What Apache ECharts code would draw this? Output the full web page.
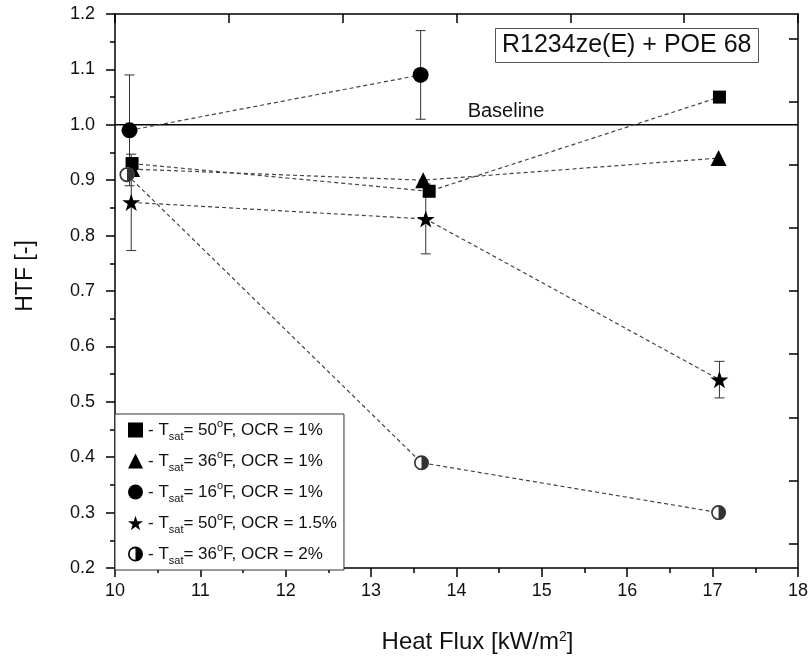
<!DOCTYPE html>
<html>
<head>
<meta charset="utf-8">
<script src="https://cdn.jsdelivr.net/npm/echarts@6/dist/echarts.min.js"></script>
<style>
html,body{margin:0;padding:0;background:#fff;}
#chart{width:811px;height:659px;}
</style>
</head>
<body>
<div id="chart"></div>
<script>
// ---- data ----
const sq50_1   = [[10.20, 0.93], [13.68, 0.88], [17.08, 1.05]];
const tri36_1  = [[10.20, 0.92], [13.61, 0.90], [17.07, 0.94]];
const cir16_1  = [[10.17, 0.99], [13.58, 1.09]];
const star50_15 = [[10.19, 0.86], [13.64, 0.83], [17.08, 0.54]];
const half36_2 = [[10.14, 0.91], [13.59, 0.39], [17.07, 0.30]];
// error bars: [x, low, high]
const errCircle = [[10.17, 0.89, 1.09], [13.58, 1.01, 1.17]];
const errStar   = [[10.19, 0.773, 0.947], [13.64, 0.767, 0.893], [17.08, 0.507, 0.573]];
const baseline  = [[10, 1.0], [18, 1.0]];
const baselineLabelAt = [14.58, 1.0];
const tsatVals = ['50', '36', '16', '50', '36'];
const ocrVals  = ['1%', '1%', '1%', '1.5%', '2%'];
const rightTicks = [0, 1, 2, 3, 4, 5, 6, 7, 8];
const titleText = 'R1234ze(E) + POE 68';

const FONT = 'Liberation Sans, Arial, sans-serif';
const STAR = 'path://M50,0 L61.8,35.3 L98.6,35.3 L68.8,57.1 L80.2,92.7 L50,70.9 L19.8,92.7 L31.2,57.1 L1.4,35.3 L38.2,35.3 Z';
const HALF = 'path://M50,0 A50,50 0 1,1 50,100 A50,50 0 1,1 50,0 Z M50,11 A39,39 0 1,0 50,89 A39,39 0 1,0 50,11 Z M50,0 A50,50 0 0,1 50,100 Z';

const names = tsatVals.map((t, i) => 'Tsat= ' + t + '°F, OCR = ' + ocrVals[i]);
const richNames = {};
names.forEach((n, i) => {
  richNames[n] = '{t|- T}{sub|sat}{t|= ' + tsatVals[i] + '}{sup|o}{t|F, OCR = ' + ocrVals[i] + '}';
});

const dashLine = {color: '#444', width: 1.2, type: [4, 3]};
const blackItem = {color: '#000'};

function errRender(params, api) {
  const x = api.value(0);
  const lo = api.coord([x, api.value(1)]);
  const hi = api.coord([x, api.value(2)]);
  const cap = 5;
  const st = {stroke: '#333', lineWidth: 1};
  return {
    type: 'group',
    children: [
      {type: 'line', shape: {x1: lo[0], y1: lo[1], x2: hi[0], y2: hi[1]}, style: st},
      {type: 'line', shape: {x1: lo[0] - cap, y1: lo[1], x2: lo[0] + cap, y2: lo[1]}, style: st},
      {type: 'line', shape: {x1: hi[0] - cap, y1: hi[1], x2: hi[0] + cap, y2: hi[1]}, style: st}
    ]
  };
}

const chart = echarts.init(document.getElementById('chart'), null, {renderer: 'canvas'});
const option = {
  animation: false,
  backgroundColor: '#fff',
  title: {
    text: titleText,
    left: 495, top: 28,
    padding: [4, 7],
    borderWidth: 1, borderColor: '#555',
    backgroundColor: '#fff',
    textStyle: {fontFamily: FONT, fontSize: 25, fontWeight: 'normal', color: '#111', lineHeight: 27}
  },
  grid: {left: 115, right: 13, top: 14, bottom: 89, containLabel: false},
  xAxis: [{
    type: 'value', min: 10, max: 18, interval: 1, position: 'bottom',
    name: 'Heat Flux [kW/m{sup|2}]', nameLocation: 'middle', nameGap: 62,
    nameTextStyle: {fontFamily: FONT, fontSize: 24, color: '#111', padding: [0, 0, 0, 42],
      rich: {sup: {fontSize: 14, verticalAlign: 'top', lineHeight: 14}}},
    axisLine: {show: true, onZero: false, lineStyle: {color: '#000', width: 1.5}},
    axisTick: {show: true, inside: false, length: 9, lineStyle: {color: '#000', width: 1.5}},
    minorTick: {show: true, splitNumber: 2, length: 5, lineStyle: {color: '#000', width: 1.5}},
    axisLabel: {fontFamily: FONT, fontSize: 18, color: '#111', margin: 14},
    splitLine: {show: false}
  }, {
    type: 'value', min: 0, max: 6, interval: 1, position: 'top',
    axisLine: {show: true, onZero: false, lineStyle: {color: '#000', width: 1.5}},
    axisTick: {show: true, inside: true, length: 9, lineStyle: {color: '#000', width: 1.5}},
    axisLabel: {show: false},
    splitLine: {show: false}
  }],
  yAxis: [{
    type: 'value', min: 0.2, max: 1.2, interval: 0.1, position: 'left',
    name: 'HTF [-]', nameLocation: 'middle', nameGap: 78,
    nameTextStyle: {fontFamily: FONT, fontSize: 23, color: '#111', padding: [0, 0, 0, 30]},
    axisLine: {show: true, onZero: false, lineStyle: {color: '#000', width: 1.5}},
    axisTick: {show: true, inside: false, length: 9, lineStyle: {color: '#000', width: 1.5}},
    minorTick: {show: true, splitNumber: 2, length: 5, lineStyle: {color: '#000', width: 1.5}},
    axisLabel: {fontFamily: FONT, fontSize: 18, color: '#111', margin: 20, formatter: v => v.toFixed(1)},
    splitLine: {show: false}
  }, {
    type: 'value', min: -0.387, max: 8.387, position: 'right',
    axisLine: {show: true, onZero: false, lineStyle: {color: '#000', width: 1.5}},
    axisTick: {show: true, inside: true, length: 9, customValues: rightTicks, lineStyle: {color: '#000', width: 1.5}},
    axisLabel: {show: false},
    splitLine: {show: false}
  }],
  legend: {
    orient: 'vertical',
    left: 115, top: 414,
    width: 210,
    padding: [4, 7, 4, 13],
    itemGap: 7,
    itemWidth: 15, itemHeight: 15,
    selectedMode: false,
    backgroundColor: '#fff',
    borderColor: '#333', borderWidth: 1,
    borderRadius: 0,
    data: [
      {name: names[0], icon: 'rect'},
      {name: names[1], icon: 'triangle'},
      {name: names[2], icon: 'circle'},
      {name: names[3], icon: STAR},
      {name: names[4], icon: HALF, itemStyle: {color: '#000', borderWidth: 0}}
    ],
    formatter: n => richNames[n],
    textStyle: {
      fontFamily: FONT, fontSize: 17, color: '#111',
      rich: {
        t: {fontFamily: FONT, fontSize: 17, lineHeight: 24, color: '#111'},
        sub: {fontFamily: FONT, fontSize: 11, lineHeight: 11, verticalAlign: 'bottom', color: '#111'},
        sup: {fontFamily: FONT, fontSize: 11, lineHeight: 12, verticalAlign: 'top', color: '#111'}
      }
    }
  },
  series: [
    {
      type: 'line', name: 'Baseline', data: baseline, symbol: 'none', z: 1,
      lineStyle: {color: '#000', width: 1.5}, silent: true
    },
    {
      type: 'custom', name: 'errC', data: errCircle, renderItem: errRender, z: 1.5,
      encode: {x: 0, y: [1, 2]}
    },
    {
      type: 'custom', name: 'errS', data: errStar, renderItem: errRender, z: 1.5,
      encode: {x: 0, y: [1, 2]}
    },
    {
      type: 'line', name: names[0], data: sq50_1, symbol: 'rect', symbolSize: 13,
      lineStyle: dashLine, itemStyle: blackItem, z: 3
    },
    {
      type: 'line', name: names[1], data: tri36_1, symbol: 'triangle', symbolSize: 16,
      lineStyle: dashLine, itemStyle: blackItem, z: 3
    },
    {
      type: 'line', name: names[2], data: cir16_1, symbol: 'circle', symbolSize: 16,
      lineStyle: dashLine, itemStyle: blackItem, z: 3
    },
    {
      type: 'line', name: names[3], data: star50_15, symbol: STAR, symbolSize: 18, symbolKeepAspect: true,
      lineStyle: dashLine, itemStyle: blackItem, z: 3
    },
    {
      type: 'line', name: names[4], data: half36_2, symbol: 'circle', symbolSize: 15,
      lineStyle: dashLine, itemStyle: {color: '#fff', borderColor: '#000', borderWidth: 0}, z: 3
    },
    {
      type: 'scatter', name: 'halfOverlay', data: half36_2, symbol: HALF, symbolSize: 15, symbolKeepAspect: true,
      itemStyle: {color: '#000'}, z: 4, silent: true
    }
  ]
};
chart.setOption(option);

const p = chart.convertToPixel({xAxisIndex: 0, yAxisIndex: 0}, baselineLabelAt);
chart.setOption({
  graphic: [{
    type: 'text', x: p[0], y: p[1] - 3, z: 10,
    style: {text: 'Baseline', fontFamily: FONT, fontSize: 20, fill: '#111', align: 'center', verticalAlign: 'bottom'}
  }]
});
</script>
</body>
</html>
